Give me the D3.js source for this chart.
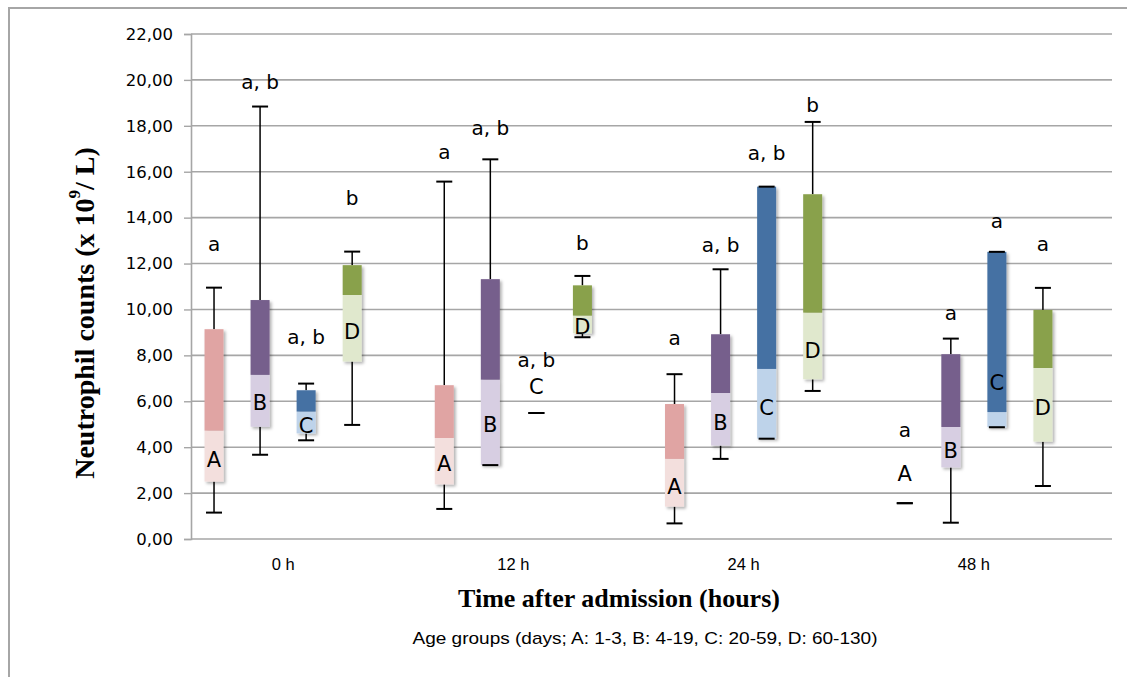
<html>
<head>
<meta charset="utf-8">
<style>
body{margin:0;background:#fff;}
</style>
</head>
<body>
<svg id="graph" width="1127" height="677"></svg>
<script src="https://d3js.org/d3.v7.min.js"></script>
<script>
// time points and age groups
var times = ['0 h','12 h','24 h','48 h'];
var groups = ['A','B','C','D'];

// values per group (rows A..D), per time point (columns)
var whiskerMin = [
	[1.15, 1.31, 0.68, 1.56],
	[3.67, 3.22, 3.49, 0.71],
	[4.30, 5.49, 4.37, 4.87],
	[4.97, 8.79, 6.45, 2.31]
];
var q1 = [
	[2.50, 2.38, 1.41, 1.56],
	[4.89, 3.22, 4.07, 3.12],
	[4.60, 5.49, 4.37, 4.87],
	[7.73, 8.96, 6.96, 4.24]
];
var median = [
	[4.72, 4.40, 3.49, 1.56],
	[7.15, 6.94, 6.36, 4.88],
	[5.55, 5.49, 7.41, 5.53],
	[10.63, 9.73, 9.86, 7.45]
];
var q3 = [
	[9.14, 6.70, 5.88, 1.56],
	[10.41, 11.32, 8.92, 8.05],
	[6.48, 5.49, 15.35, 12.51],
	[11.93, 11.05, 15.02, 9.98]
];
var whiskerMax = [
	[10.95, 15.57, 7.18, 1.56],
	[18.84, 16.54, 11.75, 8.73],
	[6.77, 5.49, 15.35, 12.51],
	[12.52, 11.46, 18.17, 10.94]
];
// significance letters and the level where they sit
var sigLetters = [
	['a','a','a','a'],
	['a, b','a, b','a, b','a'],
	['a, b','a, b','a, b','a'],
	['b','b','b','a']
];
var sigLevel = [
	[12.85, 16.88, 8.74, 4.75],
	[19.93, 17.90, 12.81, 9.83],
	[8.81, 7.80, 16.83, 13.87],
	[14.87, 12.88, 18.91, 12.85]
];
// level of the group letter drawn on each box
var tagLevel = [
	[3.44, 3.25, 2.28, 2.83],
	[5.93, 4.97, 5.07, 3.85],
	[4.92, 6.64, 5.69, 6.78],
	[9.03, 9.25, 8.19, 5.69]
];
var yTicks = [0,2,4,6,8,10,12,14,16,18,20,22];

var darkColor = ['#e0a4a3','#765f8c','#4471a3','#89a14b'];
var lightColor = ['#f3dfdd','#d7cee2','#bed3ea','#e0e8cd'];

var svg = d3.select('#graph');
var plotL = 191, plotR = 1112, plotT = 34, plotB = 539;

var x = d3.scaleBand().domain(times).range([plotL,plotR]);
var slot = d3.scaleBand().domain(groups.concat(['_'])).range([0,x.bandwidth()]);
var y = d3.scaleLinear().domain([0,22]).range([plotB,plotT]);
var bw = 19;

// outer frame
svg.append('path')
	.attr('d','M9,677V8H1127')
	.attr('fill','none')
	.attr('stroke','#a6a6a6')
	.attr('stroke-width',2);

var defs = svg.append('defs');
var f = defs.append('filter').attr('id','shadow').attr('x','-30%').attr('y','-10%').attr('width','170%').attr('height','130%');
f.append('feDropShadow').attr('dx',2).attr('dy',2).attr('stdDeviation',1.5)
	.attr('flood-color','#000').attr('flood-opacity',0.3);

// grid
svg.append('g').selectAll('line')
	.data(yTicks.slice(1))
	.enter().append('line')
	.attr('x1',plotL).attr('x2',plotR)
	.attr('y1',function(d){return y(d);})
	.attr('y2',function(d){return y(d);})
	.attr('stroke','#a6a6a6')
	.attr('stroke-width',1.6);

// y axis
var yAxis = svg.append('g')
	.attr('transform','translate('+plotL+',0)')
	.call(d3.axisLeft(y).tickValues(yTicks).tickSize(7).tickPadding(11)
		.tickFormat(function(d){return d3.format('.2f')(d).replace('.',',');}));
yAxis.select('.domain').attr('stroke','#a6a6a6').attr('stroke-width',1.6);
yAxis.selectAll('.tick line').attr('stroke','#a6a6a6').attr('stroke-width',1.4);
yAxis.selectAll('.tick text')
	.attr('fill','#000')
	.style('font-family','DejaVu Sans')
	.style('font-size','16.5px');

// x axis line
svg.append('line')
	.attr('x1',plotL).attr('x2',plotR)
	.attr('y1',plotB).attr('y2',plotB)
	.attr('stroke','#a6a6a6').attr('stroke-width',1.6);

// x labels centered under the four boxes
svg.append('g').selectAll('text')
	.data(times)
	.enter().append('text')
	.attr('x',function(d){return x(d)+(slot('A')+slot('D'))/2+slot.bandwidth()/2;})
	.attr('y',566)
	.attr('text-anchor','middle')
	.attr('dominant-baseline','middle')
	.style('font-family','Liberation Sans')
	.style('font-size','16.5px')
	.text(function(d){return d;});

// boxes
var cells = [];
groups.forEach(function(g,gi){
	times.forEach(function(t,ti){
		cells.push({g:g,gi:gi,t:t,
			lo:whiskerMin[gi][ti],q1:q1[gi][ti],med:median[gi][ti],
			q3:q3[gi][ti],hi:whiskerMax[gi][ti],
			sig:sigLetters[gi][ti],sigY:sigLevel[gi][ti],tagY:tagLevel[gi][ti]});
	});
});

var box = svg.append('g').selectAll('g')
	.data(cells)
	.enter().append('g')
	.attr('transform',function(d){return 'translate('+(x(d.t)+slot(d.g)+slot.bandwidth()/2)+',0)';});

// whisker stems
box.append('line')
	.attr('x1',0).attr('x2',0)
	.attr('y1',function(d){return y(d.hi);})
	.attr('y2',function(d){return y(d.q3);})
	.attr('stroke','#000').attr('stroke-width',1.5);
box.append('line')
	.attr('x1',0).attr('x2',0)
	.attr('y1',function(d){return y(d.q1);})
	.attr('y2',function(d){return y(d.lo);})
	.attr('stroke','#000').attr('stroke-width',1.5);

var seg = box.append('g').attr('filter','url(#shadow)');
seg.append('rect')
	.attr('x',-bw/2).attr('width',bw)
	.attr('y',function(d){return y(d.med);})
	.attr('height',function(d){return y(d.q1)-y(d.med);})
	.attr('fill',function(d){return lightColor[d.gi];});
seg.append('rect')
	.attr('x',-bw/2).attr('width',bw)
	.attr('y',function(d){return y(d.q3);})
	.attr('height',function(d){return y(d.med)-y(d.q3);})
	.attr('fill',function(d){return darkColor[d.gi];});

// caps
box.append('line')
	.attr('x1',-8).attr('x2',8)
	.attr('y1',function(d){return y(d.hi);})
	.attr('y2',function(d){return y(d.hi);})
	.attr('stroke','#000').attr('stroke-width',2);
box.append('line')
	.attr('x1',-8).attr('x2',8)
	.attr('y1',function(d){return y(d.lo);})
	.attr('y2',function(d){return y(d.lo);})
	.attr('stroke','#000').attr('stroke-width',2);

// group letters on the boxes
box.append('text')
	.attr('x',0)
	.attr('y',function(d){return y(d.tagY);})
	.attr('text-anchor','middle')
	.attr('dominant-baseline','central')
	.style('font-family','DejaVu Sans')
	.style('font-size','21px')
	.text(function(d){return d.g;});

// significance letters
box.append('text')
	.attr('x',0)
	.attr('y',function(d){return y(d.sigY);})
	.attr('text-anchor','middle')
	.attr('dominant-baseline','central')
	.style('font-family','DejaVu Sans')
	.style('font-size','20px')
	.text(function(d){return d.sig;});

// axis titles
var yt = svg.append('text')
	.attr('transform','translate(84,313) rotate(-90)')
	.attr('text-anchor','middle')
	.attr('dominant-baseline','central')
	.style('font-family','Liberation Serif')
	.style('font-weight','bold')
	.style('font-size','28px');
yt.append('tspan').text('Neutrophil counts (x 10');
yt.append('tspan').attr('dy',-10).style('font-size','17px').text('9');
yt.append('tspan').attr('dy',10).text('/ L)');

svg.append('text')
	.attr('x',619).attr('y',598)
	.attr('text-anchor','middle')
	.attr('dominant-baseline','central')
	.style('font-family','Liberation Serif')
	.style('font-weight','bold')
	.style('font-size','26px')
	.text('Time after admission (hours)');

svg.append('text')
	.attr('x',645).attr('y',638)
	.attr('text-anchor','middle')
	.attr('dominant-baseline','central')
	.attr('textLength',465)
	.attr('lengthAdjust','spacingAndGlyphs')
	.style('font-family','Liberation Sans')
	.style('font-size','17px')
	.text('Age groups (days; A: 1-3, B: 4-19, C: 20-59, D: 60-130)');
</script>
</body>
</html>
